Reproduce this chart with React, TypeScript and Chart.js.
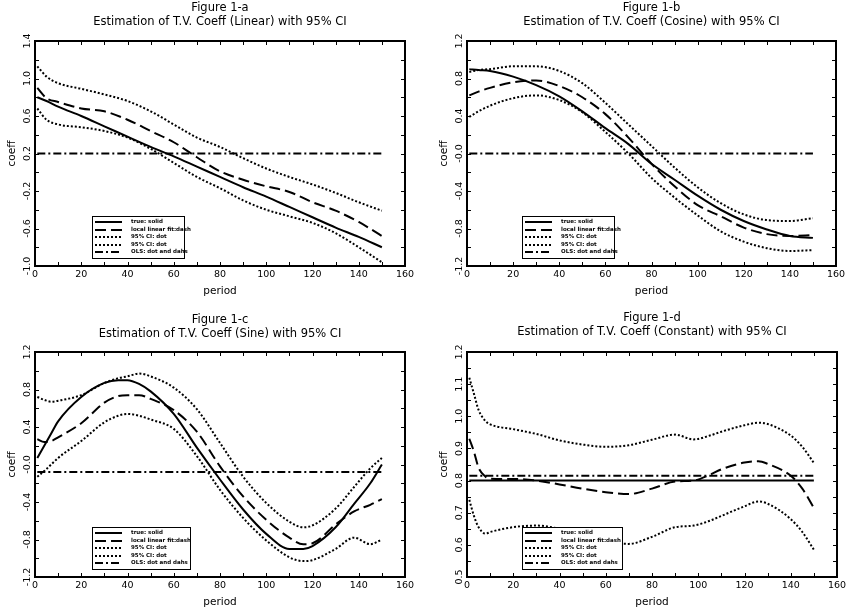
import { useEffect, useRef } from 'react';
import { Chart, registerables } from 'chart.js';

Chart.register(...registerables);

const FONT = '"DejaVu Sans", "Liberation Sans", sans-serif';

// ---- tick labels ----
const xTickLabels = ['0', '20', '40', '60', '80', '100', '120', '140', '160'];
const yTickLabelsA = ['-1.0', '-0.6', '-0.2', '0.2', '0.6', '1.0', '1.4'];
const yTickLabelsB = ['-1.2', '-0.8', '-0.4', '-0.0', '0.4', '0.8', '1.2'];
const yTickLabelsC = ['-1.2', '-0.8', '-0.4', '-0.0', '0.4', '0.8', '1.2'];
const yTickLabelsD = ['0.5', '0.6', '0.7', '0.8', '0.9', '1.0', '1.1', '1.2'];

// ---- legend labels ----
const seriesLabels = ['true: solid', 'local linear fit:dash', '95% CI: dot', '95% CI: dot', 'OLS: dot and dahs'];

// ---- OLS span ----
const olsPeriods = [1, 150];

// ---- Figure 1-a (Linear) ----
const periodsA = [1, 5, 10, 20, 30, 40, 50, 60, 70, 80, 90, 100, 110, 120, 130, 140, 150];
const trueA = [0.80, 0.76, 0.70, 0.60, 0.49, 0.38, 0.27, 0.17, 0.06, -0.05, -0.16, -0.26, -0.37, -0.48, -0.59, -0.69, -0.80];
const fitA = [0.90, 0.79, 0.75, 0.68, 0.65, 0.56, 0.44, 0.32, 0.16, 0.01, -0.08, -0.15, -0.21, -0.32, -0.41, -0.53, -0.68];
const upperA = [1.13, 1.02, 0.95, 0.89, 0.83, 0.76, 0.65, 0.51, 0.37, 0.27, 0.15, 0.04, -0.05, -0.13, -0.22, -0.32, -0.41];
const lowerA = [0.68, 0.56, 0.51, 0.48, 0.44, 0.37, 0.25, 0.10, -0.05, -0.17, -0.30, -0.40, -0.47, -0.54, -0.65, -0.80, -0.96];
const olsA = [0.2, 0.2];

// ---- Figure 1-b (Cosine) ----
const periodsB = [1, 5, 10, 20, 30, 40, 50, 60, 70, 80, 90, 100, 110, 120, 130, 140, 150];
const trueB = [0.90, 0.89, 0.88, 0.82, 0.73, 0.61, 0.45, 0.27, 0.10, -0.11, -0.28, -0.45, -0.60, -0.72, -0.81, -0.88, -0.90];
const fitB = [0.62, 0.66, 0.70, 0.76, 0.78, 0.72, 0.60, 0.42, 0.17, -0.11, -0.35, -0.55, -0.67, -0.79, -0.86, -0.88, -0.87];
const upperB = [0.87, 0.89, 0.90, 0.93, 0.93, 0.88, 0.75, 0.54, 0.31, 0.08, -0.15, -0.36, -0.53, -0.65, -0.71, -0.72, -0.69];
const lowerB = [0.39, 0.45, 0.51, 0.59, 0.62, 0.57, 0.44, 0.23, 0.00, -0.26, -0.47, -0.66, -0.83, -0.94, -1.01, -1.04, -1.03];
const olsB = [0.0, 0.0];

// ---- Figure 1-c (Sine) ----
const periodsC = [1, 4, 7, 10, 20, 30, 36, 40, 45, 50, 60, 70, 80, 90, 100, 110, 116, 120, 130, 138, 145, 150];
const trueC = [0.07, 0.20, 0.33, 0.46, 0.72, 0.87, 0.90, 0.90, 0.86, 0.78, 0.54, 0.18, -0.16, -0.48, -0.74, -0.90, -0.90, -0.87, -0.67, -0.42, -0.20, 0.00];
const fitC = [0.27, 0.24, 0.25, 0.29, 0.44, 0.66, 0.73, 0.74, 0.74, 0.70, 0.58, 0.35, -0.02, -0.34, -0.59, -0.78, -0.85, -0.84, -0.64, -0.50, -0.43, -0.37];
const upperC = [0.72, 0.69, 0.67, 0.68, 0.74, 0.87, 0.92, 0.94, 0.97, 0.94, 0.82, 0.59, 0.23, -0.13, -0.41, -0.61, -0.67, -0.65, -0.47, -0.24, -0.04, 0.07];
const lowerC = [-0.13, -0.07, 0.00, 0.07, 0.25, 0.45, 0.52, 0.54, 0.52, 0.48, 0.38, 0.09, -0.27, -0.57, -0.81, -0.99, -1.03, -1.02, -0.90, -0.78, -0.85, -0.80];
const olsC = [-0.08, -0.08];

// ---- Figure 1-d (Constant) ----
const periodsD = [1, 3, 5, 8, 10, 20, 30, 40, 50, 60, 70, 80, 90, 98, 105, 110, 120, 126, 130, 140, 145, 150];
const trueD = [0.8, 0.8];
const fitD = [0.93, 0.89, 0.84, 0.812, 0.806, 0.805, 0.80, 0.788, 0.775, 0.764, 0.758, 0.775, 0.797, 0.80, 0.818, 0.835, 0.856, 0.86, 0.852, 0.815, 0.775, 0.715];
const upperD = [1.12, 1.07, 1.02, 0.985, 0.975, 0.96, 0.945, 0.925, 0.912, 0.905, 0.91, 0.927, 0.943, 0.928, 0.94, 0.952, 0.972, 0.98, 0.976, 0.94, 0.905, 0.855];
const lowerD = [0.74, 0.69, 0.655, 0.635, 0.64, 0.655, 0.66, 0.65, 0.63, 0.61, 0.603, 0.625, 0.655, 0.66, 0.675, 0.69, 0.72, 0.735, 0.728, 0.68, 0.64, 0.585];
const olsD = [0.815, 0.815];

// ---- layout (positions/sizes only) ----
type Box = { x: number; y: number; w: number; h: number };
type Area = { l: number; t: number; r: number; b: number };

const panels = [
  {
    key: 'a', fig: 'Figure 1-a', sub: 'Estimation of T.V. Coeff (Linear) with 95% CI',
    box: { x: 0, y: 0, w: 423, h: 306 }, area: { l: 35, t: 41, r: 405, b: 266 }, titleTop: 1,
    yMin: -1.0, yMax: 1.4, yStep: 0.2, yLabels: yTickLabelsA,
    periods: periodsA, truePeriods: periodsA, trueV: trueA, fit: fitA, upper: upperA, lower: lowerA, ols: olsA,
    legendDx: 57, legendW: 92,
  },
  {
    key: 'b', fig: 'Figure 1-b', sub: 'Estimation of T.V. Coeff (Cosine) with 95% CI',
    box: { x: 423, y: 0, w: 424, h: 306 }, area: { l: 467, t: 41, r: 836, b: 266 }, titleTop: 1,
    yMin: -1.2, yMax: 1.2, yStep: 0.2, yLabels: yTickLabelsB,
    periods: periodsB, truePeriods: periodsB, trueV: trueB, fit: fitB, upper: upperB, lower: lowerB, ols: olsB,
    legendDx: 55, legendW: 92,
  },
  {
    key: 'c', fig: 'Figure 1-c', sub: 'Estimation of T.V. Coeff (Sine) with 95% CI',
    box: { x: 0, y: 306, w: 423, h: 306 }, area: { l: 35, t: 352, r: 405, b: 577 }, titleTop: 7,
    yMin: -1.2, yMax: 1.2, yStep: 0.2, yLabels: yTickLabelsC,
    periods: periodsC, truePeriods: periodsC, trueV: trueC, fit: fitC, upper: upperC, lower: lowerC, ols: olsC,
    legendDx: 57, legendW: 98,
  },
  {
    key: 'd', fig: 'Figure 1-d', sub: 'Estimation of T.V. Coeff (Constant) with 95% CI',
    box: { x: 423, y: 306, w: 424, h: 306 }, area: { l: 467, t: 352, r: 837, b: 577 }, titleTop: 5,
    yMin: 0.5, yMax: 1.2, yStep: 0.05, yLabels: yTickLabelsD,
    periods: periodsD, truePeriods: olsPeriods, trueV: trueD, fit: fitD, upper: upperD, lower: lowerD, ols: olsD,
    legendDx: 55, legendW: 100,
  },
];

const Y_AXIS_W = 29;
const X_AXIS_H = 32;
const TITLE_SIZE = 11.5;
const TITLE_LINE = 14;
const TICK_LEN = 4;

const pts = (xs: number[], ys: number[]) => xs.map((x, i) => ({ x, y: ys[i] }));

const frameTicksPlugin = {
  id: 'frameTicks',
  afterDatasetsDraw(chart: any, _args: any, opts: any) {
    const { ctx, chartArea: a, scales } = chart;
    const xs = scales.x;
    const ys = scales.y;
    ctx.save();
    ctx.strokeStyle = '#000';
    ctx.setLineDash([]);
    ctx.lineWidth = 1;
    ctx.beginPath();
    xs.ticks.forEach((t: any) => {
      const px = Math.round(xs.getPixelForValue(t.value)) + 0.5;
      if (px <= a.left + 1.5 || px >= a.right - 1.5) return;
      ctx.moveTo(px, a.bottom);
      ctx.lineTo(px, a.bottom - TICK_LEN);
      ctx.moveTo(px, a.top);
      ctx.lineTo(px, a.top + TICK_LEN);
    });
    ys.ticks.forEach((t: any) => {
      const py = Math.round(ys.getPixelForValue(t.value)) + 0.5;
      if (py <= a.top + 1.5 || py >= a.bottom - 1.5) return;
      ctx.moveTo(a.left, py);
      ctx.lineTo(a.left + TICK_LEN, py);
      ctx.moveTo(a.right, py);
      ctx.lineTo(a.right - TICK_LEN, py);
    });
    ctx.stroke();

    // frame
    ctx.lineWidth = 2;
    ctx.strokeRect(a.left, a.top, a.right - a.left, a.bottom - a.top);

    // rotated y tick labels
    ctx.fillStyle = '#000';
    ctx.font = `9.5px ${FONT}`;
    ctx.textAlign = 'center';
    ctx.textBaseline = 'middle';
    ys.ticks.forEach((t: any) => {
      if (!t.label) return;
      const py = ys.getPixelForValue(t.value);
      ctx.save();
      ctx.translate(a.left - 7, py);
      ctx.rotate(-Math.PI / 2);
      ctx.fillText(String(t.label), 0, 0);
      ctx.restore();
    });

    // legend box
    const lw = opts.legendW;
    const lh = 42;
    const lx = Math.round(a.left + opts.legendDx);
    const ly = Math.round(a.bottom - 8 - lh);
    ctx.fillStyle = '#fff';
    ctx.fillRect(lx, ly, lw, lh);
    ctx.lineWidth = 1;
    ctx.strokeStyle = '#000';
    ctx.strokeRect(lx + 0.5, ly + 0.5, lw, lh);
    chart.data.datasets.forEach((ds: any, i: number) => {
      const y = Math.round(ly + 6 + i * 7.5);
      ctx.setLineDash(ds.borderDash || []);
      ctx.lineWidth = ds.borderWidth;
      ctx.beginPath();
      ctx.moveTo(lx + 3, y);
      ctx.lineTo(lx + 30, y);
      ctx.stroke();
      ctx.setLineDash([]);
      ctx.fillStyle = '#000';
      ctx.font = `bold 5.5px ${FONT}`;
      ctx.textAlign = 'left';
      ctx.textBaseline = 'middle';
      ctx.fillText(ds.label, lx + 39, y);
    });
    ctx.restore();
  },
};

function buildConfig(p: any): any {
  const box: Box = p.box;
  const area: Area = p.area;
  const tickFont = { family: FONT, size: 9.5 };
  const axisTitleFont = { family: FONT, size: 10.5 };
  const line = (label: string, data: any[], dash: number[], width: number) => ({
    label,
    data,
    borderColor: '#000',
    backgroundColor: '#000',
    borderWidth: width,
    borderDash: dash,
    pointRadius: 0,
    fill: false,
    cubicInterpolationMode: 'monotone',
  });
  return {
    type: 'line',
    data: {
      datasets: [
        line(seriesLabels[0], pts(p.truePeriods, p.trueV), [], 2),
        line(seriesLabels[1], pts(p.periods, p.fit), [11, 5], 2),
        line(seriesLabels[2], pts(p.periods, p.upper), [2, 2], 2),
        line(seriesLabels[3], pts(p.periods, p.lower), [2, 2], 2),
        line(seriesLabels[4], pts(olsPeriods, p.ols), [8, 3, 2, 3], 2),
      ],
    },
    plugins: [frameTicksPlugin],
    options: {
      animation: false,
      responsive: false,
      maintainAspectRatio: false,
      events: [],
      layout: {
        padding: {
          left: area.l - box.x - Y_AXIS_W,
          right: box.x + box.w - area.r,
          top: p.titleTop,
          bottom: box.y + box.h - area.b - X_AXIS_H,
        },
      },
      plugins: {
        legend: { display: false },
        tooltip: { enabled: false },
        title: {
          display: true,
          text: [p.fig, p.sub],
          fullSize: false,
          align: 'center',
          color: '#000',
          font: { family: FONT, size: TITLE_SIZE, weight: 'normal', lineHeight: TITLE_LINE / TITLE_SIZE },
          padding: { top: 0, bottom: area.t - box.y - p.titleTop - 2 * TITLE_LINE },
        },
        frameTicks: { legendDx: p.legendDx, legendW: p.legendW },
      },
      scales: {
        x: {
          type: 'linear',
          min: 0,
          max: 160,
          grid: { display: false, drawTicks: false },
          border: { display: false },
          ticks: {
            stepSize: 10,
            autoSkip: false,
            maxRotation: 0,
            minRotation: 0,
            padding: 3,
            color: '#000',
            font: tickFont,
            callback: (_v: any, i: number) => (i % 2 === 0 ? xTickLabels[i / 2] : ''),
          },
          title: { display: true, text: 'period', color: '#000', font: axisTitleFont, padding: 0 },
          afterFit: (s: any) => {
            s.height = X_AXIS_H;
            s.paddingLeft = 0;
            s.paddingRight = 0;
          },
        },
        y: {
          type: 'linear',
          min: p.yMin,
          max: p.yMax,
          grid: { display: false, drawTicks: false },
          border: { display: false },
          ticks: {
            stepSize: p.yStep,
            display: false,
            autoSkip: false,
            callback: (_v: any, i: number) => (i % 2 === 0 ? p.yLabels[i / 2] : ''),
          },
          title: { display: true, text: 'coeff', color: '#000', font: axisTitleFont, padding: 0 },
          afterFit: (s: any) => {
            s.width = Y_AXIS_W;
            s.paddingTop = 0;
            s.paddingBottom = 0;
          },
        },
      },
    },
  };
}

function Panel({ p }: { p: any }) {
  const ref = useRef<HTMLCanvasElement | null>(null);
  useEffect(() => {
    if (!ref.current) return;
    const chart = new Chart(ref.current, buildConfig(p));
    return () => chart.destroy();
  }, [p]);
  return (
    <canvas
      ref={ref}
      width={p.box.w}
      height={p.box.h}
      style={{ position: 'absolute', left: p.box.x, top: p.box.y, width: p.box.w, height: p.box.h }}
    />
  );
}

export default function App() {
  return (
    <div
      style={{
        position: 'fixed',
        left: 0,
        top: 0,
        width: 847,
        height: 612,
        background: '#fff',
        overflow: 'hidden',
      }}
    >
      {panels.map((p) => (
        <Panel key={p.key} p={p} />
      ))}
    </div>
  );
}
